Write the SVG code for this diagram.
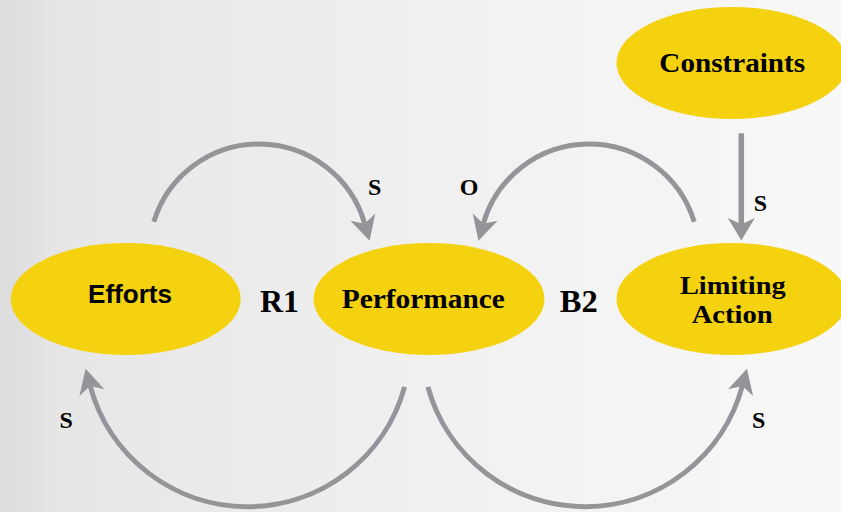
<svg xmlns="http://www.w3.org/2000/svg" width="841" height="512" viewBox="0 0 841 512">
  <defs>
    <linearGradient id="bg" x1="0" y1="0" x2="1" y2="0">
      <stop offset="0" stop-color="#dcdcdc"/>
      <stop offset="0.08" stop-color="#e7e7e7"/>
      <stop offset="0.5" stop-color="#f0f0f0"/>
      <stop offset="1" stop-color="#f8f8f8"/>
    </linearGradient>
    <marker id="head" markerUnits="userSpaceOnUse" markerWidth="30" markerHeight="30" viewBox="-6 -11 20 22" refX="0" refY="0" orient="auto">
      <path d="M13,0 L-5,-9.5 L0,0 L-5,9.5 Z" fill="#939598"/>
    </marker>
    <marker id="head-wide" markerUnits="userSpaceOnUse" markerWidth="30" markerHeight="30" viewBox="-6 -12 20 24" refX="0" refY="0" orient="auto">
      <path d="M13,0 L-5,-10.8 L0,0 L-5,10.8 Z" fill="#939598"/>
    </marker>
    <style>
      .node { fill: #f5d20f; }
      .sans { font-family: "Liberation Sans", Arial, sans-serif; font-weight: bold; fill: #000; }
      .serif { font-family: "Liberation Serif", "Times New Roman", serif; font-weight: bold; fill: #000; }
      .link { fill: none; stroke: #939598; stroke-width: 5; marker-end: url(#head); }
    </style>
  </defs>

  <rect width="841" height="512" fill="url(#bg)"/>

  <!-- connectors -->
  <g id="connectors">
    <path class="link" d="M153.8,221.8 A110,110 0 0,1 364.7,223.7"/>
    <path class="link" d="M694.2,221.8 A110,110 0 0,0 483.3,223.7"/>
    <path class="link" d="M404.6,386.8 A162.9,162.9 0 0,1 90.15,385.96"/>
    <path class="link" d="M427.9,386.8 A162.9,162.9 0 0,0 742.35,385.96"/>
    <path class="link" style="stroke-width:5.5; marker-end:url(#head-wide)" d="M741.3,133.3 L741.3,224.3"/>
  </g>

  <!-- polarity and loop labels -->
  <g id="labels" class="serif">
    <text x="374.7" y="195" font-size="24" text-anchor="middle">S</text>
    <text x="469.2" y="195" font-size="24" text-anchor="middle">O</text>
    <text x="760.5" y="211" font-size="24" text-anchor="middle">S</text>
    <text x="66.3" y="428.3" font-size="24" text-anchor="middle">S</text>
    <text x="758.8" y="428.3" font-size="24" text-anchor="middle">S</text>
    <text x="279.5" y="311.7" font-size="31" text-anchor="middle" textLength="39" lengthAdjust="spacingAndGlyphs">R1</text>
    <text x="578.8" y="311.7" font-size="31" text-anchor="middle" textLength="38" lengthAdjust="spacingAndGlyphs">B2</text>
  </g>

  <g id="efforts">
    <ellipse class="node" cx="125.7" cy="299" rx="115" ry="56"/>
    <text class="sans" x="130" y="302.6" font-size="26.5" text-anchor="middle" textLength="84" lengthAdjust="spacingAndGlyphs">Efforts</text>
  </g>

  <g id="performance">
    <ellipse class="node" cx="429" cy="299" rx="115.5" ry="56"/>
    <text class="serif" x="423.3" y="307.7" font-size="27.5" text-anchor="middle" textLength="163" lengthAdjust="spacingAndGlyphs">Performance</text>
  </g>

  <g id="limiting-action">
    <ellipse class="node" cx="732" cy="299" rx="115.5" ry="56"/>
    <text class="serif" x="732.8" y="294" font-size="26" text-anchor="middle" textLength="105.7" lengthAdjust="spacingAndGlyphs">Limiting</text>
    <text class="serif" x="732.2" y="322.7" font-size="26" text-anchor="middle" textLength="81" lengthAdjust="spacingAndGlyphs">Action</text>
  </g>

  <g id="constraints">
    <ellipse class="node" cx="732" cy="63" rx="115.5" ry="56"/>
    <text class="serif" x="732.2" y="71.7" font-size="27.5" text-anchor="middle" textLength="145.7" lengthAdjust="spacingAndGlyphs">Constraints</text>
  </g>
</svg>
